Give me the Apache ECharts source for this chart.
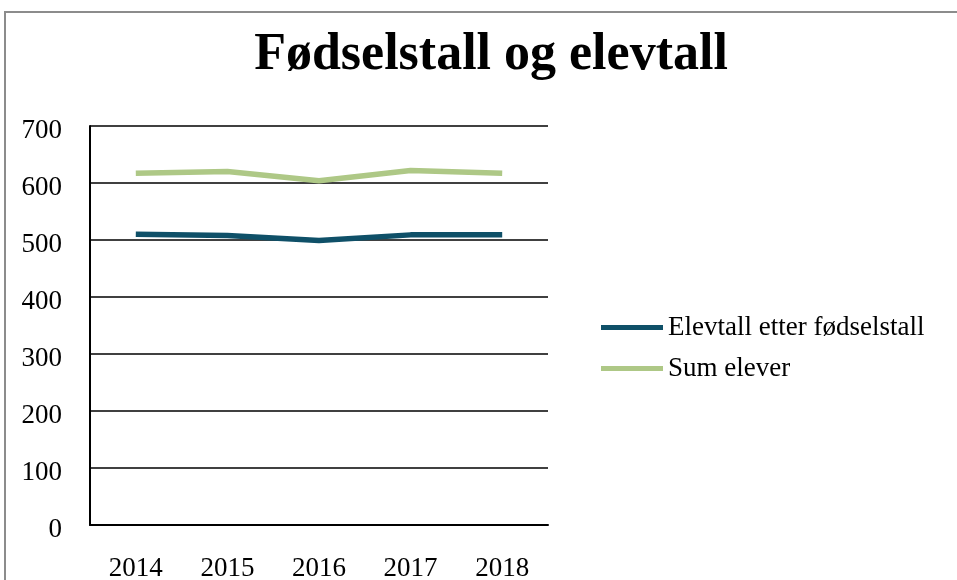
<!DOCTYPE html>
<html><head><meta charset="utf-8">
<script src="https://cdn.jsdelivr.net/npm/echarts@6/dist/echarts.min.js"></script>
<style>html,body{margin:0;padding:0;background:#fff}#c{width:957px;height:580px}</style>
</head><body><div id="c"></div>
<script>
const years = ['2014','2015','2016','2017','2018'];
const elevtallEtterFodsel = [510, 508, 499, 509, 509];
const sumElever = [617, 620, 604, 622, 617];
const yTicks = [0,100,200,300,400,500,600,700];

const chart = echarts.init(document.getElementById('c'));
const font = '"Liberation Serif", "DejaVu Serif", serif';
chart.setOption({
  animation: false,
  backgroundColor: '#fff',
  title: {
    text: 'Fødselstall og elevtall', left: 486, top: 25, textAlign: 'center',
    textStyle: {fontFamily: font, fontSize: 52, fontWeight: 'bold', color: '#000'}
  },
  graphic: [{type:'rect', shape:{x:5, y:12, width:1000, height:600},
    style:{fill:'none', stroke:'#8c8c8c', lineWidth:2}, silent:true}],
  legend: {
    orient: 'vertical', left: 596, top: 309, itemWidth: 62, itemHeight: 5, itemGap: 14,
    icon: 'rect',
    textStyle: {fontFamily: font, fontSize: 27, color: '#000'},
    data: ['Elevtall etter fødselstall', 'Sum elever']
  },
  grid: {left: 90, right: 409, top: 126, bottom: 55, outerBoundsMode: 'none', containLabel: false},
  xAxis: {
    type: 'category', data: years, boundaryGap: true,
    axisLine: {lineStyle: {color: '#000', width: 2}},
    axisTick: {show: false},
    axisLabel: {fontFamily: font, fontSize: 27, color: '#000', margin: 30}
  },
  yAxis: {
    type: 'value', min: 0, max: 700, interval: 100,
    axisLine: {show: true, lineStyle: {color: '#000', width: 2}},
    axisTick: {show: false},
    splitLine: {lineStyle: {color: '#000', width: 1.5}},
    axisLabel: {color: '#000', margin: 28,
      formatter: v => yTicks.includes(v) ? '{a|' + v + '}' : '',
      rich: {a: {fontFamily: font, fontSize: 27, color: '#000', padding: [10, 0, 0, 0]}}}
  },
  series: [
    {name: 'Elevtall etter fødselstall', type: 'line', data: elevtallEtterFodsel,
      symbol: 'none', lineStyle: {color: '#0f5068', width: 5.5}, itemStyle: {color: '#0f5068'}},
    {name: 'Sum elever', type: 'line', data: sumElever,
      symbol: 'none', lineStyle: {color: '#aec886', width: 5.5}, itemStyle: {color: '#aec886'}}
  ]
});
</script></body></html>
